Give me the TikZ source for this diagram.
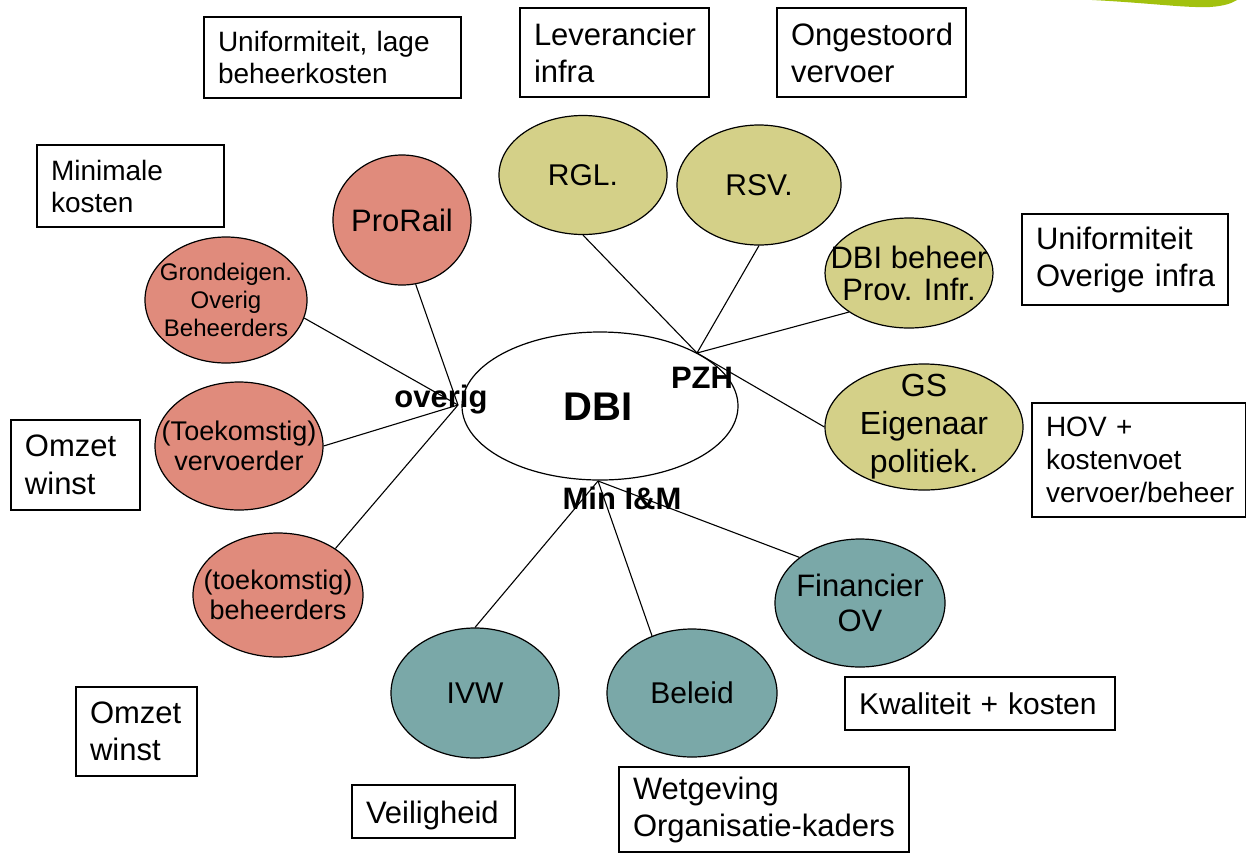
\documentclass[tikz,border=0pt]{standalone}
\usepackage{fontspec}
\setmainfont{Liberation Sans}
\usetikzlibrary{shapes.geometric}
\definecolor{salmon}{RGB}{224,139,124}
\definecolor{khaki}{RGB}{212,208,136}
\definecolor{tealg}{RGB}{122,168,168}
\definecolor{limeg}{RGB}{162,193,14}
\newcommand\myfs[2]{\fontsize{#1}{#2}\selectfont}
\begin{document}
\begin{tikzpicture}[x=0.5pt,y=-0.5pt,
  oval/.style={ellipse, draw, line width=0.6pt, inner sep=0pt},
  lab/.style={align=center, inner sep=0pt},
  box/.style={draw, rectangle, line width=0.6pt, inner xsep=7pt, inner ysep=0pt, align=left},
  conn/.style={draw, line width=0.55pt},
  hub/.style={font=\bfseries\myfs{15.5}{18}, inner sep=0pt}]
\useasboundingbox (0,0) rectangle (1246,852);

% green swoosh at top right
\fill[limeg] (1092,0) .. controls (1150,3) and (1185,8) .. (1210,7) .. controls (1225,6) and (1232,3) .. (1237,0) -- cycle;

% central ellipse
\node[oval, fill=white, minimum width=138pt, minimum height=74pt] (dbi) at (600,406) {};
\node[font=\bfseries\myfs{20}{24}, inner sep=0pt] (dbitxt) at (598,407) {DBI};

% hub labels
\node[hub] (pzh) at (702,378) {PZH};
\node[hub] (overig) at (441,400) {overig};
\node[hub] (minim) at (622,498) {Min I\&M};

\coordinate (hubL) at (458,405);
\coordinate (hubR) at (697,353);
\coordinate (hubB) at (598,481);

% salmon ellipses
\node[oval, fill=salmon, minimum width=69pt, minimum height=65pt,
  label={[lab, font=\myfs{15.5}{18}]center:ProRail}] (prorail) at (402,220) {};
\node[oval, fill=salmon, minimum width=81pt, minimum height=63pt,
  label={[lab, font=\myfs{12}{14}]center:{Grondeigen.\\Overig\\Beheerders}}] (grond) at (226,300) {};
\node[oval, fill=salmon, minimum width=84pt, minimum height=64pt,
  label={[lab, font=\myfs{13.5}{15}]center:{(Toekomstig)\\vervoerder}}] (verv) at (239,446) {};
\node[oval, fill=salmon, minimum width=85pt, minimum height=62pt,
  label={[lab, font=\myfs{13.5}{15}]center:{(toekomstig)\\beheerders}}] (beh) at (278,595) {};

% khaki ellipses
\node[oval, fill=khaki, minimum width=84pt, minimum height=59.5pt,
  label={[lab, font=\myfs{15}{18}]center:RGL.}] (rgl) at (583,175) {};
\node[oval, fill=khaki, minimum width=82pt, minimum height=60pt,
  label={[lab, font=\myfs{15}{18}]center:RSV.}] (rsv) at (759,185) {};
\node[oval, fill=khaki, minimum width=84pt, minimum height=55pt,
  label={[lab, font=\myfs{15.5}{16}]center:{DBI beheer\\Prov. Infr.}}] (dbib) at (909,273) {};
\node[oval, fill=khaki, minimum width=99pt, minimum height=63pt,
  label={[lab, font=\myfs{16}{19}]center:{GS\\Eigenaar\\politiek.}}] (gs) at (924,427) {};

% teal ellipses
\node[oval, fill=tealg, minimum width=85pt, minimum height=64pt,
  label={[lab, font=\myfs{15.5}{17.5}]center:{Financier\\OV}}] (fin) at (860,603) {};
\node[oval, fill=tealg, minimum width=84pt, minimum height=65pt,
  label={[lab, font=\myfs{15}{18}]center:IVW}] (ivw) at (475,693) {};
\node[oval, fill=tealg, minimum width=85pt, minimum height=64pt,
  label={[lab, font=\myfs{15}{18}]center:Beleid}] (beleid) at (692,693) {};

% connectors
\draw[conn] (hubL) -- (prorail.-78);
\draw[conn] (hubL) -- (grond.-13);
\draw[conn] (hubL) -- (verv.east);
\draw[conn] (hubL) -- (beh.39);
\draw[conn] (hubR) -- (rgl.south);
\draw[conn] (hubR) -- (rsv.south);
\draw[conn] (hubR) -- (dbib.213);
\draw[conn] (hubR) -- (gs.west);
\draw[conn] (hubB) -- (ivw.north);
\draw[conn] (hubB) -- (beleid.125);
\draw[conn] (hubB) -- (fin.143);

% text boxes
\node[box, minimum width=128.5pt, minimum height=40.5pt, text width=114.5pt, font=\myfs{14}{16}]
  (b1) at (332.5,57.5) {\mbox{Uniformiteit, lage}\\beheerkosten};
\node[box, minimum width=94.5pt, minimum height=44.5pt, text width=80.5pt, font=\myfs{15.5}{18.5}]
  (b2) at (614.5,52.5) {Leverancier\\infra};
\node[box, minimum width=94.5pt, minimum height=44.5pt, text width=80.5pt, font=\myfs{15.5}{18.5}]
  (b3) at (871.5,52.5) {Ongestoord\\vervoer};
\node[box, minimum width=93.5pt, minimum height=41pt, text width=79.5pt, font=\myfs{14}{16}]
  (b4) at (130.5,186) {Minimale\\kosten};
\node[box, minimum width=103pt, minimum height=45.5pt, text width=89pt, font=\myfs{15.5}{18.5}]
  (b5) at (1125,259.5) {Uniformiteit\\\mbox{Overige infra}};
\node[box, minimum width=107pt, minimum height=57pt, text width=93pt, font=\myfs{14}{16.5}]
  (b6) at (1139,460) {\mbox{HOV +}\\kostenvoet\\\mbox{vervoer/beheer}};
\node[box, minimum width=64.5pt, minimum height=45pt, text width=50.5pt, font=\myfs{15.5}{19}]
  (b7) at (75.5,465) {Omzet\\winst};
\node[box, minimum width=60.5pt, minimum height=44.5pt, text width=46.5pt, font=\myfs{15.5}{18.5}]
  (b8) at (136.5,731.5) {Omzet\\winst};
\node[box, minimum width=81.5pt, minimum height=26.5pt, text width=67.5pt, font=\myfs{15.5}{18.5},
  text depth=1pt, text height=13pt]
  (b9) at (433.5,811.5) {Veiligheid};
\node[box, minimum width=145pt, minimum height=42.5pt, text width=131pt, font=\myfs{15.5}{18.5}]
  (b10) at (764,809.5) {Wetgeving\\\mbox{Organisatie-kaders}};
\node[box, minimum width=135pt, minimum height=26.5pt, text width=121pt, font=\myfs{15}{18}]
  (b11) at (980,703.5) {\mbox{Kwaliteit + kosten}};
\end{tikzpicture}
\end{document}
